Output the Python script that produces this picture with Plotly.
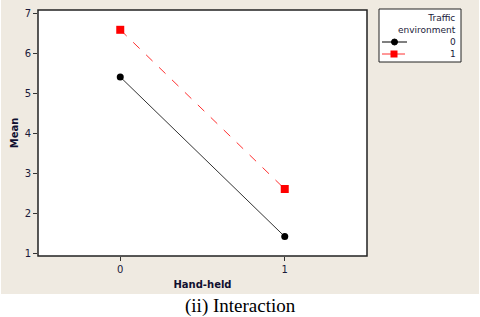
import plotly.graph_objects as go

hand_held = [0, 1]
mean_env0 = [5.4, 1.41]
mean_env1 = [6.58, 2.6]
x_ticks = [0, 1]
y_ticks = [1, 2, 3, 4, 5, 6, 7]
legend_title = "Traffic<br>environment"
legend_labels = ["0", "1"]

W, H = 480, 317
L, R, T, B = 38, 113, 10, 61
pw, ph = W - L - R, H - T - B

def px(x):
    return (x - L) / pw

def py(y):
    return (H - B - y) / ph

black_line = "#333333"
red_line = "#ff3030"

fig = go.Figure()
fig.add_trace(go.Scatter(x=hand_held, y=mean_env0, mode="lines+markers", name=legend_labels[0],
                         line=dict(color=black_line, width=1),
                         marker=dict(symbol="circle", size=7, color="black")))
fig.add_trace(go.Scatter(x=hand_held, y=mean_env1, mode="lines+markers", name=legend_labels[1],
                         line=dict(color=red_line, width=1, dash="dash"),
                         marker=dict(symbol="square", size=8, color="#ff0000")))

def prect(x0, x1, y0, y1, **kw):
    return dict(type="rect", xref="paper", yref="paper", x0=px(x0), x1=px(x1),
                y0=py(y1), y1=py(y0), **kw)

def pline(x0, x1, y, **kw):
    return dict(type="line", xref="paper", yref="paper", x0=px(x0), x1=px(x1),
                y0=py(y), y1=py(y), **kw)

shapes = [
    prect(1, 479, 0, 294, fillcolor="#efeae1", line=dict(width=0), layer="below"),
    dict(type="rect", xref="paper", yref="paper", x0=0, x1=1, y0=0, y1=1,
         fillcolor="white", line=dict(color="#222222", width=1.5), layer="below"),
    # legend box
    prect(379, 461, 9, 62, fillcolor="white", line=dict(color="#222222", width=1)),
    # legend glyphs
    pline(382, 407, 42, line=dict(color="black", width=1)),
    dict(type="circle", xref="paper", yref="paper", x0=px(391.5), x1=px(397.5),
         y0=py(45), y1=py(39), fillcolor="black", line=dict(color="black", width=1)),
    pline(382, 405, 54, line=dict(color=red_line, width=1)),
    prect(390.5, 397.5, 50.5, 57.5, fillcolor="#ff0000", line=dict(color="#ff0000", width=0)),
]

annotations = [
    dict(text=legend_title, xref="paper", yref="paper", x=px(458), y=py(11),
         xanchor="right", yanchor="top", align="right", showarrow=False,
         font=dict(size=9, color="#1a1a3a")),
    dict(text=legend_labels[0], xref="paper", yref="paper", x=px(458), y=py(42),
         xanchor="right", yanchor="middle", showarrow=False, font=dict(size=9, color="#1a1a3a")),
    dict(text=legend_labels[1], xref="paper", yref="paper", x=px(458), y=py(54),
         xanchor="right", yanchor="middle", showarrow=False, font=dict(size=9, color="#1a1a3a")),
    dict(text="(ii) Interaction", xref="paper", yref="paper", x=px(240.5), y=py(306),
         xanchor="center", yanchor="middle", showarrow=False,
         font=dict(family="Liberation Serif", size=19, color="black")),
]

fig.update_layout(
    width=W, height=H,
    margin=dict(l=L, r=R, t=T, b=B),
    paper_bgcolor="white", plot_bgcolor="rgba(0,0,0,0)",
    shapes=shapes, annotations=annotations,
    font=dict(family="DejaVu Sans", size=10, color="#1a1a3a"),
    xaxis=dict(range=[-0.5, 1.5], tickvals=x_ticks, ticks="outside", ticklen=4,
               tickcolor="#333333", showgrid=False, zeroline=False, automargin=False,
               title=dict(text="<b>Hand-held</b>", font=dict(size=10, color="#101030"), standoff=6)),
    yaxis=dict(range=[0.925, 7.075], tickvals=y_ticks, ticks="outside", ticklen=4,
               tickcolor="#333333", showgrid=False, zeroline=False, automargin=False,
               title=dict(text="<b>Mean</b>", font=dict(size=10, color="#101030"), standoff=4)),
    showlegend=False,
)

fig.write_html("out.html", config={"displayModeBar": False},
               post_script="document.body.style.margin='0';document.body.style.overflow='hidden';")
